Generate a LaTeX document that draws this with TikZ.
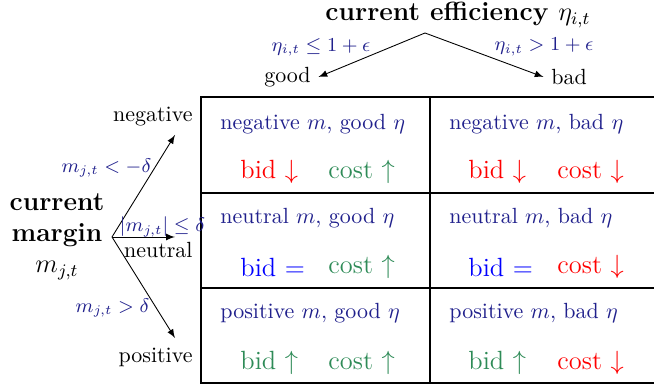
\documentclass[tikz,border=0pt]{standalone}
\usepackage{amsmath}
\definecolor{condblue}{RGB}{32,32,140}
\definecolor{upgreen}{RGB}{46,139,87}
\tikzset{
  cond/.style={text=condblue,font=\small},
  celltitle/.style={text=condblue,anchor=west,inner sep=0pt},
  move/.style={anchor=west,inner sep=0pt,font=\large},
  branch/.style={-latex,thin},
}
\begin{document}
\begin{tikzpicture}[x=0.16cm,y=0.16cm]
\useasboundingbox (0,0) rectangle (65.4,38.7);
% table
\draw[thick] (65.4,29.0)--(20.1,29.0)--(20.1,0.4)--(65.4,0.4);
\draw[thick] (20.1,19.4)--(65.4,19.4);
\draw[thick] (20.1,9.9)--(65.4,9.9);
\draw[thick] (43.0,29.0)--(43.0,0.4);
% efficiency branches
\node (eff) at (45.8,37.2) {\large\bfseries current efficiency $\eta_{i,t}$};
\coordinate (effroot) at (42.5,35.4);
\node (good) at (28.75,31.0) {good};
\node (bad) at (56.9,31.0) {bad};
\draw[branch] (effroot)--(good.east);
\draw[branch] (effroot)--(bad.west);
\node[cond] (goodcond) at (32.1,34.0) {$\eta_{i,t} \le 1+\epsilon$};
\node[cond] (badcond) at (54.4,34.0) {$\eta_{i,t} > 1+\epsilon$};
% margin branches
\node[align=center,font=\large\bfseries] (marg) at (5.7,15.0) {current\\margin\\$m_{j,t}$};
\coordinate (margroot) at (11.2,15.0);
\coordinate (negtip) at (17.5,25.2);
\coordinate (neutip) at (17.5,15.0);
\coordinate (postip) at (17.5,4.9);
\draw[branch] (margroot)--(negtip);
\draw[branch] (margroot)--(neutip);
\draw[branch] (margroot)--(postip);
\node[anchor=east,inner sep=0pt] (negative) at (19.3,27.0) {negative};
\node[anchor=east,inner sep=0pt] (neutral) at (19.3,13.7) {neutral};
\node[anchor=east,inner sep=0pt] (positive) at (19.3,3.0) {positive};
\node[cond] (negcond) at (10.65,21.9) {$m_{j,t} < -\delta$};
\node[cond] (neucond) at (16.25,16.0) {$|m_{j,t}| \le \delta$};
\node[cond] (poscond) at (11.25,7.9) {$m_{j,t} > \delta$};
% cells
\node[celltitle] (negood) at (22.0,26.3) {negative $m$, good $\eta$};
\node[celltitle] (nebad) at (44.9,26.3) {negative $m$, bad $\eta$};
\node[celltitle] (nugood) at (22.0,16.9) {neutral $m$, good $\eta$};
\node[celltitle] (nubad) at (44.9,16.9) {neutral $m$, bad $\eta$};
\node[celltitle] (pogood) at (22.0,7.4) {positive $m$, good $\eta$};
\node[celltitle] (pobad) at (44.9,7.4) {positive $m$, bad $\eta$};
\node[move,text=red] (negoodbid) at (24.0,21.5) {bid $\downarrow$};
\node[move,text=upgreen] (negoodcost) at (32.8,21.5) {cost $\uparrow$};
\node[move,text=red] (nebadbid) at (46.8,21.5) {bid $\downarrow$};
\node[move,text=red] (nebadcost) at (55.7,21.5) {cost $\downarrow$};
\node[move,text=blue] (nugoodbid) at (24.0,12.0) {bid $=$};
\node[move,text=upgreen] (nugoodcost) at (32.8,12.0) {cost $\uparrow$};
\node[move,text=blue] (nubadbid) at (46.8,12.0) {bid $=$};
\node[move,text=red] (nubadcost) at (55.7,12.0) {cost $\downarrow$};
\node[move,text=upgreen] (pogoodbid) at (24.0,2.4) {bid $\uparrow$};
\node[move,text=upgreen] (pogoodcost) at (32.8,2.4) {cost $\uparrow$};
\node[move,text=upgreen] (pobadbid) at (46.8,2.4) {bid $\uparrow$};
\node[move,text=red] (pobadcost) at (55.7,2.4) {cost $\downarrow$};
\end{tikzpicture}
\end{document}
